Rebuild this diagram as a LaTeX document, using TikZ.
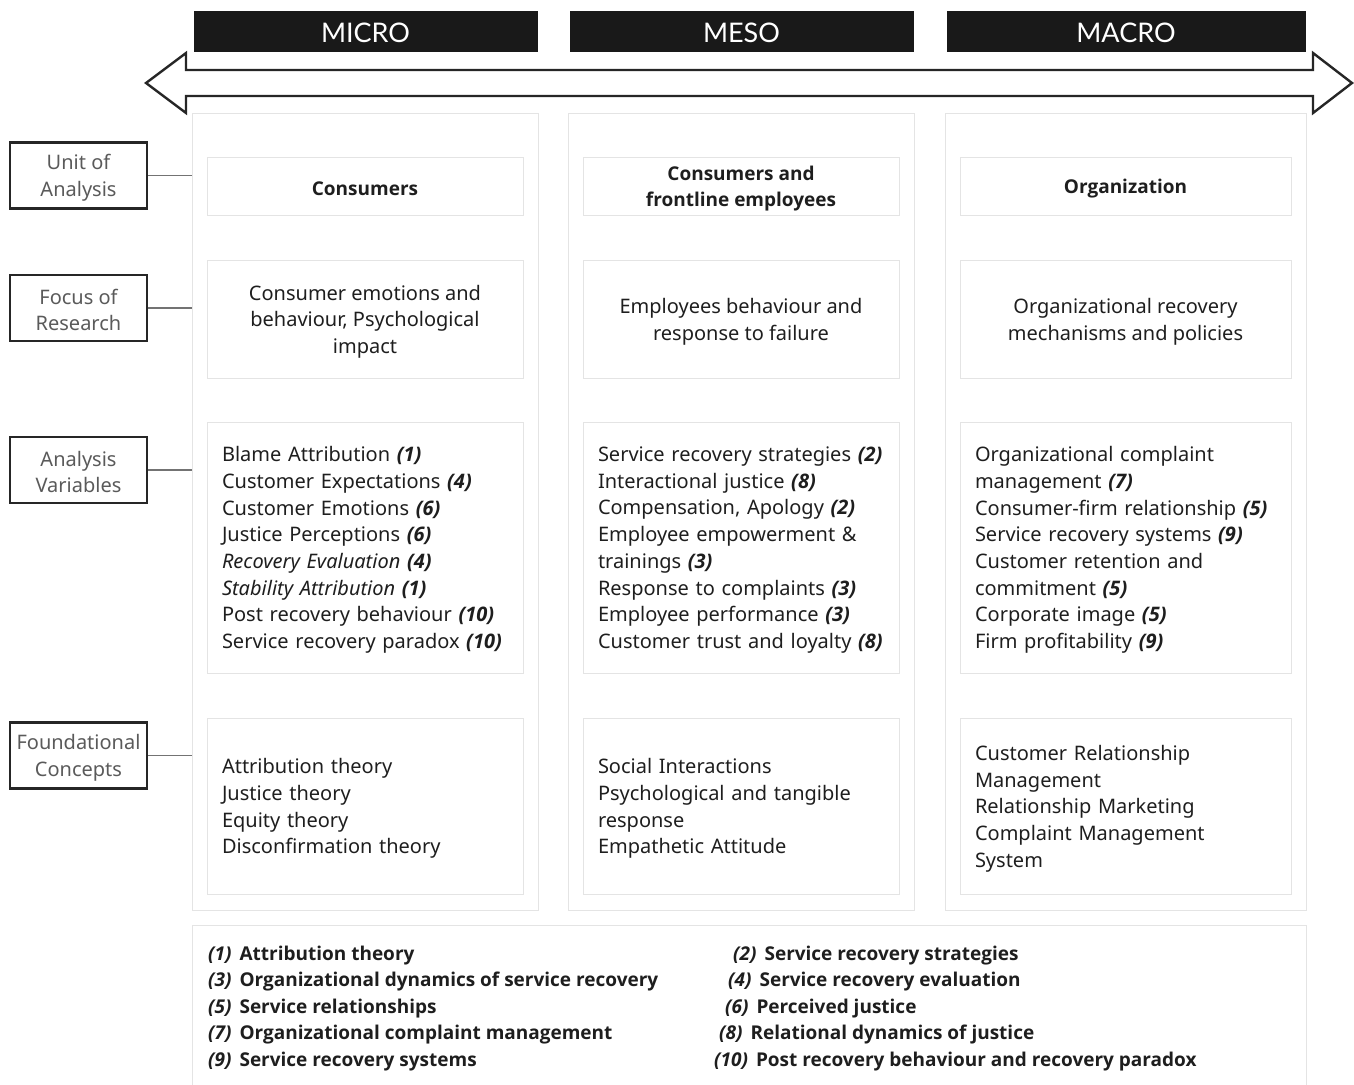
\documentclass[tikz,border=0pt]{standalone}
\usepackage{fontspec}
\setmainfont{Noto Sans}
\newfontfamily\bfam{Open Sans}
\newfontfamily\hdrfont{Lato}
\newcommand\refn[1]{{\bfam\bfseries\itshape(#1)}}
\definecolor{boxline}{HTML}{E4E4E4}
\definecolor{txt}{HTML}{1E1E1E}
\definecolor{labtxt}{HTML}{5A5A5A}
\newcommand\cellbox[7]{%
  \node[ibox, minimum width=#4pt, minimum height=#5pt] (#1) at (#2,#3) {};
  \node[itxt, #6] (#1t) at ([yshift=-2.5pt]#1.center) {#7};
}
\begin{document}
\begin{tikzpicture}[x=1pt,y=-1pt,
  hdrbox/.style={fill=black!90, draw=black!90, minimum height=40pt, text=white,
    font=\hdrfont\fontsize{27}{30}\selectfont, inner sep=0pt},
  colbox/.style={draw=boxline, line width=1pt, inner sep=0pt},
  ibox/.style={draw=boxline, line width=1pt, inner sep=0pt},
  itxt/.style={inner sep=0pt, text=txt, font=\fontsize{20}{26.7}\selectfont},
  boldtxt/.style={font=\bfam\bfseries\fontsize{19}{26.7}\selectfont},
  lbox/.style={draw=black!85, line width=2.2pt, minimum width=137pt, minimum height=66pt,
    inner sep=0pt},
  ltxt/.style={inner sep=0pt, align=center, text=labtxt, font=\fontsize{20}{26.7}\selectfont},
  conn/.style={draw=black!55, line width=1.6pt},
  bigarrow/.style={draw=black!85, line width=2.4pt, fill=white, line join=miter},
  legtxt/.style={text=txt, font=\bfam\bfseries\fontsize{19}{26.6}\selectfont, inner sep=0pt, anchor=base west}
]
\useasboundingbox (0,0) rectangle (1354,1084);

% header boxes
\node[hdrbox, minimum width=343pt] (hmicro) at (365.5,31) {};
\node[hdrbox, minimum width=343pt] (hmeso) at (741.5,31) {};
\node[hdrbox, minimum width=358pt] (hmacro) at (1126,31) {};
\node[text=white, font=\hdrfont\fontsize{27}{30}\selectfont, inner sep=0pt] (hmicrot) at ([yshift=-1.5pt]hmicro.center) {MICRO};
\node[text=white, font=\hdrfont\fontsize{27}{30}\selectfont, inner sep=0pt] (hmesot) at ([yshift=-1.5pt]hmeso.center) {MESO};
\node[text=white, font=\hdrfont\fontsize{27}{30}\selectfont, inner sep=0pt] (hmacrot) at ([yshift=-1.5pt]hmacro.center) {MACRO};

% double arrow
\draw[bigarrow] (146,83) -- (186,53) -- (186,70) -- (1313,70) -- (1313,53) -- (1352,83)
  -- (1313,113) -- (1313,96) -- (186,96) -- (186,113) -- cycle;

% column outer boxes
\node[colbox, minimum width=346pt, minimum height=797pt] (cmicro) at (365,511.5) {};
\node[colbox, minimum width=346pt, minimum height=797pt] (cmeso) at (741,511.5) {};
\node[colbox, minimum width=361pt, minimum height=797pt] (cmacro) at (1125.5,511.5) {};

% row 1
\cellbox{m1}{365}{186}{316}{58}{boldtxt, align=center}{Consumers}
\cellbox{s1}{741}{186}{316}{58}{boldtxt, align=center}{Consumers and\\frontline employees}
\cellbox{o1}{1125.5}{186}{331}{58}{boldtxt, align=center}{Organization}

% row 2
\cellbox{m2}{365}{319}{316}{118}{align=center}{Consumer emotions and\\behaviour, Psychological\\impact}
\cellbox{s2}{741}{319}{316}{118}{align=center}{Employees behaviour and\\response to failure}
\cellbox{o2}{1125.5}{319}{331}{118}{align=center}{Organizational recovery\\mechanisms and policies}

% row 3
\cellbox{m3}{365}{547.5}{316}{251}{text width=286pt, align=left}{%
Blame Attribution \refn{1}\\
Customer Expectations \refn{4}\\
Customer Emotions \refn{6}\\
Justice Perceptions \refn{6}\\
\textit{Recovery Evaluation} \refn{4}\\
\textit{Stability Attribution} \refn{1}\\
Post recovery behaviour \refn{10}\\
Service recovery paradox \refn{10}}
\cellbox{s3}{741}{547.5}{316}{251}{text width=286pt, align=left}{%
Service recovery strategies \refn{2}\\
Interactional justice \refn{8}\\
Compensation, Apology \refn{2}\\
Employee empowerment \&\\
trainings \refn{3}\\
Response to complaints \refn{3}\\
Employee performance \refn{3}\\
Customer trust and loyalty \refn{8}}
\cellbox{o3}{1125.5}{547.5}{331}{251}{text width=301pt, align=left}{%
Organizational complaint\\
management \refn{7}\\
Consumer-firm relationship \refn{5}\\
Service recovery systems \refn{9}\\
Customer retention and\\
commitment \refn{5}\\
Corporate image \refn{5}\\
Firm profitability \refn{9}}

% row 4
\cellbox{m4}{365}{806}{316}{176}{text width=286pt, align=left}{%
Attribution theory\\Justice theory\\Equity theory\\Disconfirmation theory}
\cellbox{s4}{741}{806}{316}{176}{text width=286pt, align=left}{%
Social Interactions\\Psychological and tangible\\response\\Empathetic Attitude}
\cellbox{o4}{1125.5}{806}{331}{176}{text width=301pt, align=left}{%
Customer Relationship\\Management\\Relationship Marketing\\Complaint Management\\System}

% left labels
\node[lbox] (lunit) at (78.5,175.5) {};
\node[lbox] (lfocus) at (78.5,308) {};
\node[lbox] (lvars) at (78.5,470) {};
\node[lbox] (lfound) at (78.5,755.5) {};
\node[ltxt] (lunitt) at ([yshift=-2pt]lunit.center) {Unit of\\Analysis};
\node[ltxt] (lfocust) at ([yshift=-2pt]lfocus.center) {Focus of\\Research};
\node[ltxt] (lvarst) at ([yshift=-2pt]lvars.center) {Analysis\\Variables};
\node[ltxt] (lfoundt) at ([yshift=-2pt]lfound.center) {Foundational\\Concepts};
\draw[conn] (lunit.east) -- (cmicro.west |- lunit.east);
\draw[conn] (lfocus.east) -- (cmicro.west |- lfocus.east);
\draw[conn] (lvars.east) -- (cmicro.west |- lvars.east);
\draw[conn] (lfound.east) -- (cmicro.west |- lfound.east);

% legend
\draw[draw=boxline, line width=1pt] (192,925) rectangle (1306,1100);
\node[legtxt] (l1) at (208,960) {\textit{(1)}\hspace{8pt}Attribution theory};
\node[legtxt] (l3) at (208,986.6) {\textit{(3)}\hspace{8pt}Organizational dynamics of service recovery};
\node[legtxt] (l5) at (208,1013.2) {\textit{(5)}\hspace{8pt}Service relationships};
\node[legtxt] (l7) at (208,1039.8) {\textit{(7)}\hspace{8pt}Organizational complaint management};
\node[legtxt] (l9) at (208,1066.4) {\textit{(9)}\hspace{8pt}Service recovery systems};
\node[legtxt] (l2) at (733,960) {\textit{(2)}\hspace{8pt}Service recovery strategies};
\node[legtxt] (l4) at (728,986.6) {\textit{(4)}\hspace{8pt}Service recovery evaluation};
\node[legtxt] (l6) at (725,1013.2) {\textit{(6)}\hspace{8pt}Perceived justice};
\node[legtxt] (l8) at (719,1039.8) {\textit{(8)}\hspace{8pt}Relational dynamics of justice};
\node[legtxt] (l10) at (714,1066.4) {\textit{(10)}\hspace{8pt}Post recovery behaviour and recovery paradox};
\end{tikzpicture}
\end{document}
